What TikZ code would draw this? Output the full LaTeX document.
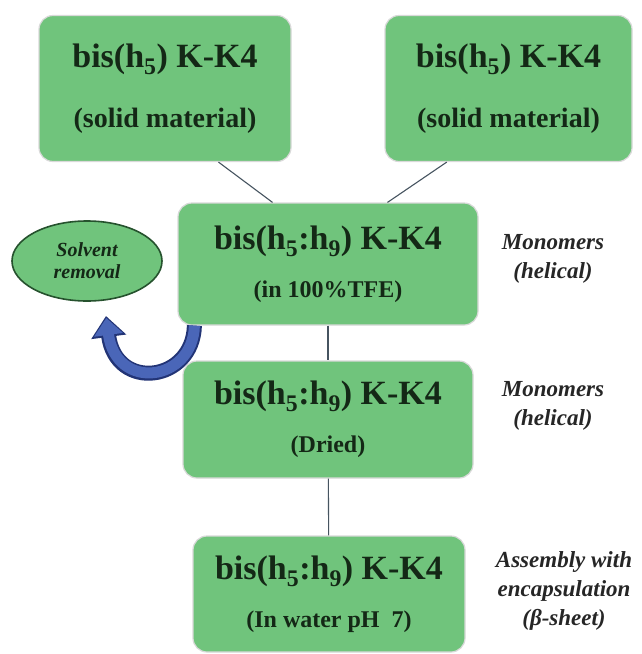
\documentclass[tikz,border=0pt]{standalone}
\usepackage{fontspec}
\setmainfont{Liberation Serif}
\usetikzlibrary{shapes.geometric, arrows.meta, positioning, calc}

\definecolor{boxgreen}{RGB}{112,196,124}
\definecolor{inkgreen}{RGB}{20,40,22}
\definecolor{rimgreen}{RGB}{38,82,46}
\definecolor{loopblue}{RGB}{74,102,184}
\definecolor{loopedge}{RGB}{34,52,118}
\definecolor{linkgray}{RGB}{70,84,96}

\begin{document}
\begin{tikzpicture}[x=1pt, y=-1pt,
    box/.style={rectangle, rounded corners=14pt, draw=black!15, line width=1.2pt, fill=boxgreen, align=center, text=inkgreen, inner sep=0pt},
    solidbox/.style={box, minimum width=252pt, minimum height=146pt, font=\bfseries\fontsize{34}{60}\selectfont},
    stagebox/.style={box, font=\bfseries\fontsize{34}{48}\selectfont},
    note/.style={align=center, text=black!85, font=\bfseries\itshape\fontsize{23}{29}\selectfont},
    link/.style={linkgray, line width=1.1pt},
    loopout/.style={loopedge, line width=15pt, -{Triangle[width=34pt,length=21pt]}},
    loopin/.style={loopblue, line width=11pt, shorten >=2pt, -{Triangle[width=28pt,length=17pt]}}
]
\useasboundingbox[fill=white] (0,0) rectangle (641,654);

% starting material
\node[solidbox] (solidL) at (165,88.5) {bis(h\textsubscript{5}) K-K4\\{\fontsize{28}{60}\selectfont (solid\ material)}};
\node[solidbox, minimum width=247pt] (solidR) at (508.5,88.5) {bis(h\textsubscript{5}) K-K4\\{\fontsize{28}{60}\selectfont (solid material)}};

% stages
\node[stagebox, minimum width=300pt, minimum height=122pt] (tfe) at (328,264) {bis(h\textsubscript{5}:h\textsubscript{9}) K-K4\\{\fontsize{24}{48}\selectfont (in 100\%TFE)}};
\node[stagebox, minimum width=290pt, minimum height=117pt] (dried) at (328,419.5) {bis(h\textsubscript{5}:h\textsubscript{9}) K-K4\\{\fontsize{24}{48}\selectfont (Dried)}};
\node[stagebox, minimum width=272pt, minimum height=116pt] (water) at (329,594) {bis(h\textsubscript{5}:h\textsubscript{9}) K-K4\\{\fontsize{24}{48}\selectfont (In water pH\ \ 7)}};

\node[ellipse, draw=rimgreen, line width=1.6pt, fill=boxgreen, minimum width=150pt, minimum height=80pt, inner sep=0pt, align=center, text=inkgreen, font=\bfseries\itshape\fontsize{20}{22}\selectfont] (solvent) at (87,261) {Solvent\\removal};

% side notes
\node[note] (mono1) at (553,259) {Monomers\\(helical)};
\node[note] (mono2) at (553,406) {Monomers\\(helical)};
\node[note] (assembly) at (564,591) {Assembly with\\encapsulation\\(β-sheet)};

\draw[link] (solidL.-54) -- (tfe.132);
\draw[link] (solidR.-130) -- (tfe.46);
\draw[link] (tfe) -- (dried);
\draw[link] (dried) -- (water);

% solvent removal loop
\coordinate (looptip) at (106,316);
\draw[loopout] ([xshift=17pt]tfe.south west) .. controls (193,382) and (116,392) .. (looptip);
\draw[loopin] ([xshift=17pt]tfe.south west) .. controls (193,382) and (116,392) .. (looptip);

\end{tikzpicture}
\end{document}
